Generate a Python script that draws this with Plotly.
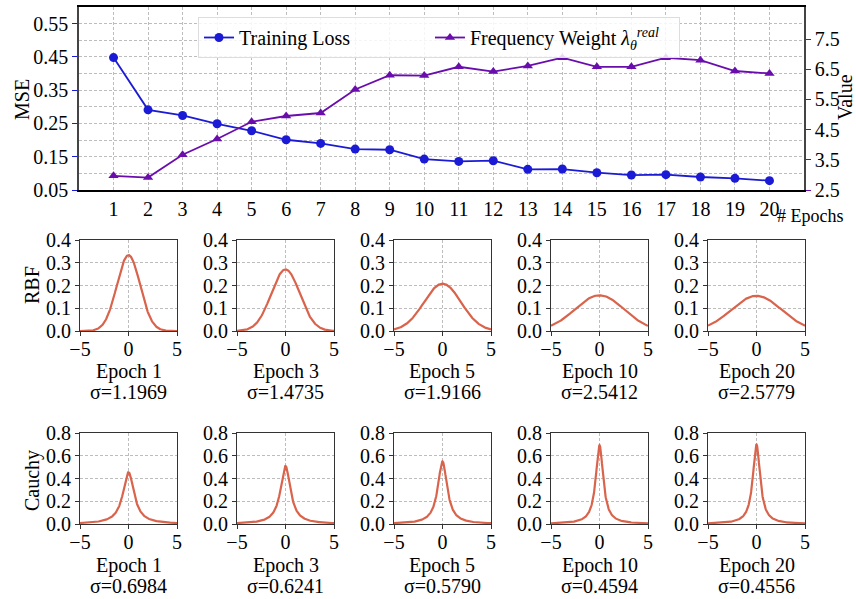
import numpy as np
import plotly.graph_objects as go

epochs = list(range(1, 21))
training_loss = [0.448, 0.291, 0.274, 0.249, 0.228, 0.201, 0.190, 0.173, 0.171, 0.143,
                 0.136, 0.138, 0.112, 0.113, 0.102, 0.095, 0.096, 0.089, 0.085, 0.078]
freq_weight = [2.97, 2.91, 3.67, 4.19, 4.76, 4.95, 5.05, 5.83, 6.30, 6.29,
               6.58, 6.42, 6.61, 6.88, 6.58, 6.58, 6.88, 6.80, 6.44, 6.36]
left_ticks = [0.05, 0.15, 0.25, 0.35, 0.45, 0.55]
right_ticks = [2.5, 3.5, 4.5, 5.5, 6.5, 7.5]

snap_epochs = [1, 3, 5, 10, 20]
rbf_sigma = [1.1969, 1.4735, 1.9166, 2.5412, 2.5779]
cauchy_sigma = [0.6984, 0.6241, 0.5790, 0.4594, 0.4556]

W, H = 856, 599
FONT = "Liberation Serif"
BLUE = "#1b1bd6"
PURPLE = "#6a0dad"
CURVE = "#d9634b"
GRID = "#bdbdbd"
GDASH = "3px,2px"
NB = "\u00a0"

fig = go.Figure()

def px_x(a, b):
    return [a / W, b / W]

def px_y(top, bottom):
    return [1 - bottom / H, 1 - top / H]

fig.add_trace(go.Scatter(x=epochs, y=training_loss, mode="lines+markers", name="Training Loss" + NB * 15,
                         line=dict(color=BLUE, width=1.8), marker=dict(symbol="circle", size=9, color=BLUE),
                         xaxis="x", yaxis="y"))
fig.add_trace(go.Scatter(x=epochs, y=freq_weight, mode="lines+markers",
                         name="Frequency Weight <i>λ</i><sub><i>θ</i></sub><sup><i>real</i></sup>" + NB * 3,
                         line=dict(color=PURPLE, width=1.8), marker=dict(symbol="triangle-up", size=9, color=PURPLE),
                         xaxis="x", yaxis="y2"))

layout = dict(
    template="none",
    width=W, height=H, margin=dict(l=0, r=0, t=0, b=0, autoexpand=False),
    paper_bgcolor="white", plot_bgcolor="white",
    font=dict(family=FONT, size=20, color="black"),
    showlegend=True,
    legend=dict(x=198 / W, y=1 - 17 / H, xanchor="left", yanchor="top", orientation="h",
                bgcolor="rgba(255,255,255,0.85)", bordercolor="#dddddd", borderwidth=1,
                font=dict(family=FONT, size=20), tracegroupgap=0),
    xaxis=dict(domain=px_x(79, 804), range=[0, 21], tickmode="array", tickvals=epochs,
               showgrid=True, gridcolor=GRID, griddash=GDASH, gridwidth=1,
               showline=True, linecolor="black", linewidth=1.5, mirror=True,
               ticks="", tickfont=dict(size=20), zeroline=False, anchor="y", automargin=False),
    yaxis=dict(domain=px_y(7, 190), range=[0.05, 0.6], tickmode="array", tickvals=left_ticks,
               ticktext=[f"{v:.2f}" for v in left_ticks],
               showgrid=True, gridcolor=GRID, griddash=GDASH,
               minor=dict(tickmode="array", tickvals=[0.1, 0.2, 0.3, 0.4, 0.5, 0.6], showgrid=True,
                          gridcolor=GRID, griddash=GDASH, ticks=""),
               showline=True, linecolor="#444444", linewidth=1.5,
               ticks="outside", tickcolor=BLUE, ticklen=5, tickwidth=1.2,
               tickfont=dict(size=20), zeroline=False, anchor="x", automargin=False),
    yaxis2=dict(overlaying="y", side="right", range=[2.5, 8.56], tickmode="array", tickvals=right_ticks,
                ticktext=[f"{v:.1f}" for v in right_ticks],
                showgrid=False, showline=True, linecolor="#444444", linewidth=1.5,
                ticks="outside", tickcolor=PURPLE, ticklen=5, tickwidth=1.2,
                tickfont=dict(size=20), zeroline=False, anchor="x", automargin=False),
)

annotations = [
    dict(text="MSE", x=22 / W, y=1 - 100 / H, xref="paper", yref="paper", textangle=-90,
         xanchor="center", yanchor="middle", showarrow=False, font=dict(size=20)),
    dict(text="Value", x=845 / W, y=1 - 97 / H, xref="paper", yref="paper", textangle=-90,
         xanchor="center", yanchor="middle", showarrow=False, font=dict(size=20)),
    dict(text="# Epochs", x=775 / W, y=1 - 216 / H, xref="paper", yref="paper",
         xanchor="left", yanchor="middle", showarrow=False, font=dict(size=18)),
    dict(text="RBF", x=32 / W, y=1 - 285 / H, xref="paper", yref="paper", textangle=-90,
         xanchor="center", yanchor="middle", showarrow=False, font=dict(size=20)),
    dict(text="Cauchy", x=32 / W, y=1 - 480 / H, xref="paper", yref="paper", textangle=-90,
         xanchor="center", yanchor="middle", showarrow=False, font=dict(size=20)),
]

xs = np.linspace(-5, 5, 401)
lefts = [80, 237, 394, 551, 708]
sub_w = 97
rows = [
    ("rbf", rbf_sigma, 240, 331, [0, 0.4], [0, 0.1, 0.2, 0.3, 0.4], 371, 392),
    ("cauchy", cauchy_sigma, 433, 524, [0, 0.8], [0, 0.2, 0.4, 0.6, 0.8], 565, 586),
]
ax_idx = 3
for kind, sigmas, top, bottom, yr, yt, ep_y, sig_y in rows:
    for i, (ep, s) in enumerate(zip(snap_epochs, sigmas)):
        xa = f"x{ax_idx}"
        ya = f"y{ax_idx}"
        if kind == "rbf":
            ys = np.exp(-xs ** 2 / (2 * s ** 2)) / (np.sqrt(2 * np.pi) * s)
        else:
            ys = 1.0 / (np.pi * s * (1 + (xs / s) ** 2))
        fig.add_trace(go.Scatter(x=xs, y=ys, mode="lines", line=dict(color=CURVE, width=2.2),
                                 showlegend=False, xaxis=xa, yaxis=ya, hoverinfo="skip"))
        l = lefts[i]
        layout[f"xaxis{ax_idx}"] = dict(
            domain=px_x(l, l + sub_w), range=[-5, 5], tickmode="array", tickvals=[-5, 0, 5],
            ticktext=["−5", "0", "5"], ticklabelstandoff=-4,
            showgrid=True, gridcolor=GRID, griddash=GDASH, showline=True, linecolor="#333333",
            linewidth=1.2, mirror=True, ticks="outside", ticklen=4, tickcolor="#333333",
            tickfont=dict(size=20), zeroline=False, anchor=ya, automargin=False)
        layout[f"yaxis{ax_idx}"] = dict(
            domain=px_y(top, bottom), range=yr, tickmode="array", tickvals=yt,
            ticktext=[f"{v:.1f}" for v in yt],
            showgrid=True, gridcolor=GRID, griddash=GDASH, showline=True, linecolor="#333333",
            linewidth=1.2, mirror=True, ticks="outside", ticklen=4, tickcolor="#333333",
            tickfont=dict(size=20), zeroline=False, anchor=xa, automargin=False)
        cx = (l + sub_w / 2) / W
        annotations.append(dict(text=f"Epoch {ep}", x=cx, y=1 - ep_y / H, xref="paper", yref="paper",
                                xanchor="center", yanchor="middle", showarrow=False, font=dict(size=20)))
        annotations.append(dict(text=f"σ={s:.4f}", x=cx, y=1 - sig_y / H, xref="paper", yref="paper",
                                xanchor="center", yanchor="middle", showarrow=False, font=dict(size=20)))
        ax_idx += 1

layout["annotations"] = annotations
fig.update_layout(**layout)
fig.write_html("out.html", config={"displayModeBar": False},
               post_script="document.body.style.margin='0';document.body.style.overflow='hidden';")
